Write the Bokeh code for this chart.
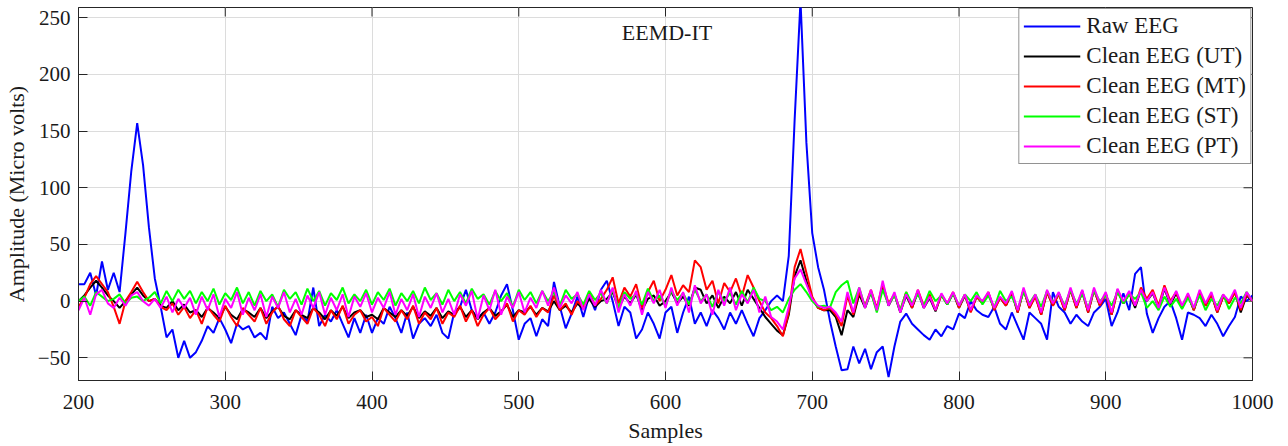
from bokeh.plotting import figure
from bokeh.models import (Range1d, FixedTicker, Legend, LegendItem, Label)
from bokeh.embed import file_html
from bokeh.resources import INLINE

# ---------------- data (one every 4 samples) ----------------
samples = list(range(200, 1001, 4))

raw_eeg = [
    15, 15, 25, 5, 35, 10, 25, 8, 60, 115,
    157, 120, 65, 20, -5, -32, -25, -50, -35, -50,
    -45, -35, -22, -28, -15, -25, -37, -20, -25, -22,
    -32, -28, -34, -5, -15, -10, -20, -30, -12, -18,
    12, -22, -12, -18, -8, -20, -32, -15, -28, -12,
    -28, -15, -20, -5, -15, -28, -10, -33, -20, -15,
    -22, -12, -28, -33, -10, -5, 10, -8, -15, -10,
    -20, -10, 5, 15, -8, -34, -20, -15, -31, -16,
    -22, 17, -5, -24, -11, 4, -14, 5, -8, 10,
    18, 0, -22, -5, -10, -33, -25, -10, -20, -33,
    -10, -5, -28, -10, 4, -20, -10, -22, -8, -15,
    -25, -10, -20, -8, -20, -31, -15, -8, 0, 5,
    0, 40, 160, 265, 140, 60, 30, 10, -17, -40,
    -61, -60, -40, -55, -42, -60, -45, -40, -67, -40,
    -18, -11, -20, -25, -30, -34, -25, -31, -22, -25,
    -11, -15, 0, -8, -12, -14, -5, -20, -25, -10,
    -22, -34, -10, -15, -20, -34, 8, -5, -10, -20,
    -12, -18, -22, -10, -5, 2, -22, -10, 7, -8,
    24, 30, -11, -28, -15, -5, 0, -15, -34, -10,
    -12, -15, -22, -12, -20, -31, -22, -14, 4, 0,
    5,
]

clean_ut = [
    0, 5, 12, 18, 12, 5, 0, -6, 0, 6,
    12, 5, 0, 2, -4, -6, 0, -8, -3, -10,
    -8, -14, -6, -10, -15, -5, -12, -16, -7, -10,
    -14, -6, -15, -9, -5, -13, -16, -8, -12, -15,
    -6, -10, -16, -8, -13, -5, -15, -10, -8, -14,
    -12, -16, -6, -10, -14, -8, -13, -5, -15, -9,
    -13, -6, -15, -9, -12, -5, -14, -8, -16, -10,
    -6, -13, -9, -3, -14, -8, -10, -5, -12, -6,
    -9, 0, -8, -4, -10, -2, -7, 2, -5, 0,
    2, 8, -6, 4, -2, 6, -8, 2, 5, -4,
    0, 8, -2, 4, -4, 12, 10, -2, 5, -6,
    4, -2, 8, -4, 10, 2, -6, -14, -20, -26,
    -30, -12, 22, 36, 18, 2, -6, -8, -8, -14,
    -30, -8, -14, 6, -6, 8, -8, 14, -4, 6,
    -10, 5, -6, 8, -6, 3, -9, 6, -3, 7,
    -6, 5, -9, 4, -2, 7, -7, 3, -4, 7,
    -10, 10, -6, 5, -12, 8, -4, 7, -8, 10,
    -6, 9, -10, 10, -4, 7, -12, 10, -2, 7,
    -6, 10, 0, 7, -6, 11, -3, 7, -6, 5,
    -8, 8, -4, 6, -10, 4, -2, 8, -10, 5,
    0,
]

clean_mt = [
    -5, 3, 15, 22, 15, 8, -5, -20, 0, 8,
    17, 8, 0, 2, -5, -8, -2, -12, -5, -15,
    -8, -20, -5, -12, -18, -4, -14, -22, -6, -12,
    -18, -6, -20, -10, -4, -16, -22, -8, -14, -20,
    -6, -12, -22, -8, -16, -4, -20, -12, -8, -18,
    -14, -22, -6, -12, -18, -8, -16, -4, -20, -10,
    -16, -6, -20, -10, -14, -4, -18, -8, -22, -12,
    -6, -16, -10, -2, -18, -8, -12, -4, -14, -6,
    -10, 5, -8, -2, -12, 0, -6, 8, -4, 2,
    10, 21, -2, 12, 4, 15, -6, 8, 18, 0,
    10, 23, 5, 14, 8, 36, 30, 10, 18, -2,
    16, 8, 20, 4, 23, 12, 0, -10, -15, -22,
    -31, -10, 30, 46, 25, 4, -6, -8, -6, -12,
    -22, 5, -12, 8, -4, 10, -6, 15, -2, 6,
    -8, 8, -6, 10, -4, 6, -8, 5, -2, 8,
    -6, 6, -10, 4, -2, 8, -8, 3, -4, 8,
    -10, 10, -6, 4, -12, 8, -4, 6, -8, 10,
    -6, 8, -10, 10, -4, 6, -12, 9, -2, 7,
    -4, 12, 2, 10, -4, 14, 0, 8, -6, 6,
    -8, 8, -4, 6, -10, 4, -2, 8, -8, 6,
    0,
]

clean_st = [
    0, 4, -4, 8, 4, 0, 2, 6, -2, 3,
    4, 0, 3, 8, -2, 9, 0, 10, 2, 9,
    -2, 8, 0, 11, -3, 7, 1, 12, -2, 8,
    -4, 9, 0, 6, -5, 10, 2, 8, -3, 11,
    0, 9, -4, 7, 1, 12, -2, 6, 0, 10,
    -3, 8, 1, 11, -4, 7, 0, 9, -2, 12,
    1, 7, -3, 10, 0, 8, -2, 11, 2, 6,
    -3, 9, 0, 7, -5, 10, 1, 8, -2, 9,
    0, 8, -4, 10, 2, 6, -3, 9, 1, 7,
    -2, 10, -6, 8, 2, 6, -3, 11, 0, 5,
    -4, 9, 1, 7, -3, 10, 0, 6, -5, 8,
    0, 7, -3, 9, -1, 12, 2, 0, -8, -5,
    -10, 2, 10, 15, 8, 0, -5, -4, -6, 8,
    14, 18, -2, 12, -5, 8, -10, 10, -3, 5,
    -8, 8, -2, 6, -4, 9, 0, 5, -3, 7,
    -4, 6, 0, 8, -3, 5, -6, 9, 0, 4,
    -7, 8, -2, 6, -5, 9, -1, 7, -4, 10,
    -2, 6, -6, 9, 0, 5, -4, 8, -2, 6,
    2, 8, -6, 0, -8, 4, -5, 2, -7, 3,
    -6, 5, -8, 2, -4, 6, -7, 3, -2, 8,
    0,
]

clean_pt = [
    -8, 3, -12, 6, 10, -2, -6, 3, -4, 5,
    8, 0, -4, 2, -6, 4, -10, 2, -6, 3,
    -12, 4, -8, 6, -14, 2, -6, 8, -12, 3,
    -8, 6, -14, 4, -6, 8, -10, 2, -12, 5,
    -6, 8, -12, 3, -8, 6, -14, 4, -5, 7,
    -10, 3, -6, 8, -12, 2, -8, 6, -14, 4,
    -6, 7, -10, 2, -12, 6, -4, 9, -16, 5,
    -8, 10, -12, 4, -6, 8, -10, 3, -6, 9,
    -4, 12, -6, 5, -2, 8, -8, 6, -4, 10,
    -2, 12, -10, 6, -4, 9, -12, 8, -2, 10,
    -6, 12, -4, 8, -10, 14, -2, 6, -12, 10,
    -4, 12, -8, 6, -2, 10, -10, 4, -14, -18,
    -25, -5, 20, 28, 15, 2, -4, -6, -5, -10,
    -18, 8, -10, 12, -6, 10, -8, 18, -4, 8,
    -10, 6, -4, 10, -6, 4, -8, 7, -2, 8,
    -4, 6, -8, 5, 0, 8, -6, 4, -2, 9,
    -8, 12, -4, 6, -10, 10, -2, 8, -6, 12,
    -4, 10, -8, 12, -2, 8, -10, 11, 0, 9,
    -4, 10, 0, 8, -6, 12, -2, 9, -4, 7,
    -6, 10, -2, 8, -8, 6, 0, 10, -6, 8,
    0,
]

series_names = ["Raw EEG", "Clean EEG (UT)", "Clean EEG (MT)", "Clean EEG (ST)", "Clean EEG (PT)"]
series_values = [raw_eeg, clean_ut, clean_mt, clean_st, clean_pt]
series_colors = ["#0000ff", "#000000", "#ff0000", "#00ff00", "#ff00ff"]

x_ticks = [200, 300, 400, 500, 600, 700, 800, 900, 1000]
y_ticks = [-50, 0, 50, 100, 150, 200, 250]
chart_title = "EEMD-IT"
x_label = "Samples"
y_label = "Amplitude (Micro volts)"

# ---------------- figure ----------------
FONT = "'Liberation Serif', 'Times New Roman', Times, serif"
TXT = "#1a1a1a"
AX = "#262626"
X_MIN, X_MAX = 200, 1000
Y_MIN, Y_MAX = -70, 259

p = figure(width=1288, height=446, output_backend="svg", toolbar_location=None,
           x_range=Range1d(X_MIN, X_MAX), y_range=Range1d(Y_MIN, Y_MAX),
           min_border_left=78, min_border_right=36, min_border_top=7, min_border_bottom=66)
p.background_fill_color = "white"
p.border_fill_color = "white"
p.outline_line_color = AX
p.outline_line_width = 1

for ax in (p.xaxis[0], p.yaxis[0]):
    ax.major_tick_in = 9
    ax.major_tick_out = 0
    ax.minor_tick_line_color = None
    ax.axis_line_color = AX
    ax.major_tick_line_color = AX
    ax.major_label_text_font = FONT
    ax.major_label_text_font_size = "21px"
    ax.major_label_text_color = TXT
    ax.axis_label_text_font = FONT
    ax.axis_label_text_font_size = "22px"
    ax.axis_label_text_font_style = "normal"
    ax.axis_label_text_color = TXT

p.xaxis[0].ticker = FixedTicker(ticks=x_ticks)
p.yaxis[0].ticker = FixedTicker(ticks=y_ticks)
p.xaxis[0].axis_label = x_label
p.yaxis[0].axis_label = y_label
p.xaxis[0].major_label_standoff = 14
p.xaxis[0].axis_label_standoff = 6
p.yaxis[0].major_label_standoff = 8
p.yaxis[0].axis_label_standoff = 6

p.xgrid[0].ticker = FixedTicker(ticks=x_ticks)
p.ygrid[0].ticker = FixedTicker(ticks=y_ticks)
p.xgrid.grid_line_color = "#dcdcdc"
p.ygrid.grid_line_color = "#dcdcdc"
p.xgrid.grid_line_width = 1
p.ygrid.grid_line_width = 1

# mirrored inner ticks on the top and right edges of the box (9 px long)
tick_len_y = 9 * (Y_MAX - Y_MIN) / 373.0
tick_len_x = 9 * (X_MAX - X_MIN) / 1174.0
p.segment(x0=x_ticks, y0=[Y_MAX] * len(x_ticks), x1=x_ticks, y1=[Y_MAX - tick_len_y] * len(x_ticks),
          line_color=AX, line_width=1)
p.segment(x0=[X_MAX] * len(y_ticks), y0=y_ticks, x1=[X_MAX - tick_len_x] * len(y_ticks), y1=y_ticks,
          line_color=AX, line_width=1)

items = []
for name, vals, col in zip(series_names, series_values, series_colors):
    r = p.line(samples, vals, line_color=col, line_width=2)
    items.append(LegendItem(label=name, renderers=[r]))

legend = Legend(items=items, location="top_right", margin=1, padding=4, spacing=4,
                label_text_font=FONT, label_text_font_size="23px", label_text_color=TXT,
                glyph_width=57, glyph_height=26, label_height=26, label_standoff=6,
                border_line_color=AX, border_line_width=1, background_fill_alpha=1.0)
p.add_layout(legend)

p.add_layout(Label(x=601, y=237, text=chart_title, text_align="center", text_baseline="middle",
                   text_font=FONT, text_font_size="22px", text_color=TXT))

open("out.html", "w").write(file_html(p, INLINE))
